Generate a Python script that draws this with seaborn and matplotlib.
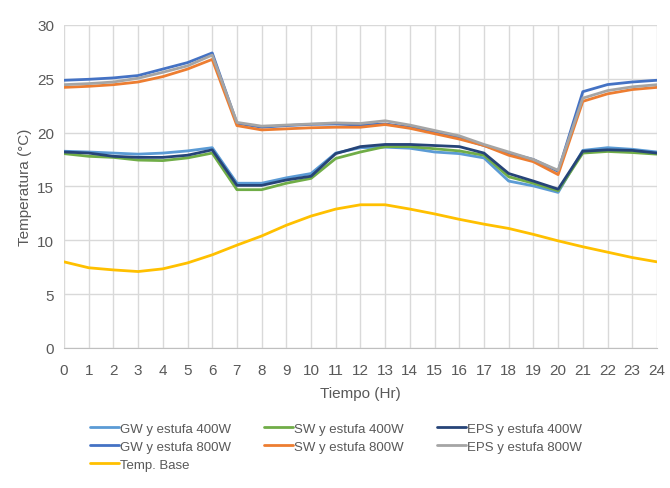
import numpy as np
import pandas as pd
import matplotlib
matplotlib.use("Agg")
import matplotlib.pyplot as plt
import seaborn as sns

hours = list(range(25))
gw_400 = [18.27, 18.2, 18.1, 18.0, 18.1, 18.3, 18.6, 15.3, 15.3, 15.8, 16.2, 18.1, 18.6,
          18.65, 18.55, 18.2, 18.05, 17.65, 15.5, 15.05, 14.45, 18.35, 18.6, 18.45, 18.2]
sw_400 = [18.05, 17.8, 17.7, 17.45, 17.4, 17.65, 18.1, 14.7, 14.7, 15.3, 15.75, 17.6, 18.2,
          18.7, 18.7, 18.5, 18.3, 17.9, 15.9, 15.3, 14.6, 18.1, 18.25, 18.15, 18.0]
eps_400 = [18.2, 18.1, 17.8, 17.7, 17.7, 17.9, 18.4, 15.1, 15.1, 15.6, 15.95, 18.05, 18.7,
           18.9, 18.9, 18.8, 18.7, 18.1, 16.2, 15.5, 14.75, 18.27, 18.4, 18.35, 18.1]
gw_800 = [24.86, 24.95, 25.08, 25.3, 25.9, 26.5, 27.4, 20.87, 20.5, 20.65, 20.77, 20.8, 20.7,
          20.8, 20.5, 20.0, 19.5, 18.8, 18.1, 17.5, 16.4, 23.8, 24.46, 24.7, 24.86]
sw_800 = [24.2, 24.3, 24.45, 24.7, 25.2, 25.9, 26.8, 20.65, 20.25, 20.35, 20.45, 20.5, 20.5,
          20.75, 20.4, 19.9, 19.4, 18.8, 17.9, 17.3, 16.1, 22.9, 23.6, 24.0, 24.2]
eps_800 = [24.45, 24.55, 24.7, 25.05, 25.6, 26.2, 27.2, 20.95, 20.6, 20.7, 20.8, 20.9, 20.85,
           21.1, 20.7, 20.2, 19.7, 18.9, 18.2, 17.5, 16.5, 23.2, 23.9, 24.25, 24.45]
temp_base = [8.0, 7.45, 7.25, 7.1, 7.35, 7.9, 8.65, 9.55, 10.4, 11.4, 12.25, 12.9, 13.3,
             13.3, 12.9, 12.45, 11.95, 11.5, 11.1, 10.55, 9.95, 9.4, 8.9, 8.4, 8.0]

series_names = ["GW y estufa 400W", "SW y estufa 400W", "EPS y estufa 400W",
                "GW y estufa 800W", "SW y estufa 800W", "EPS y estufa 800W", "Temp. Base"]
series_vals = [gw_400, sw_400, eps_400, gw_800, sw_800, eps_800, temp_base]
colors = ["#5B9BD5", "#70AD47", "#264478", "#4472C4", "#ED7D31", "#A5A5A5", "#FFC000"]

df = pd.concat([pd.DataFrame({"Tiempo": hours, "Temp": v, "Serie": n})
                for n, v in zip(series_names, series_vals)], ignore_index=True)

sns.set_style("white")
plt.rcParams['font.family'] = ['Liberation Sans', 'DejaVu Sans']

fig = plt.figure(figsize=(6.7, 4.89), dpi=100)
ax = fig.add_axes([0.0955, 0.2863, 0.885, 0.6607])

sns.lineplot(data=df, x="Tiempo", y="Temp", hue="Serie", hue_order=series_names,
             palette=dict(zip(series_names, colors)), linewidth=2.0, ax=ax, legend=False)

ax.set_xlim(0, 24)
ax.set_ylim(0, 30)
ax.set_xticks(hours)
ax.set_yticks(range(0, 31, 5))
ax.grid(True, color="#D9D9D9", linewidth=1.0)
ax.set_axisbelow(True)
for s in ["top", "right", "left"]:
    ax.spines[s].set_visible(False)
ax.spines["bottom"].set_color("#BFBFBF")
ax.tick_params(axis="both", length=0, labelsize=11, labelcolor="#595959")
ax.tick_params(axis="x", pad=11)
ax.tick_params(axis="y", pad=7)
ax.set_xlabel("Tiempo (Hr)", fontsize=11, color="#595959", labelpad=6)
ax.set_ylabel("Temperatura (°C)", fontsize=11, color="#595959", labelpad=4)

handles = {n: plt.Line2D([], [], color=c, linewidth=2.0) for n, c in zip(series_names, colors)}
order = ["GW y estufa 400W", "GW y estufa 800W", "Temp. Base",
         "SW y estufa 400W", "SW y estufa 800W",
         "EPS y estufa 400W", "EPS y estufa 800W"]
leg = fig.legend([handles[n] for n in order], order, ncol=3, frameon=False,
                 loc="upper left", bbox_to_anchor=(0.134, 0.134), fontsize=9.5,
                 handlelength=2.2, handletextpad=0.1, columnspacing=2.5,
                 labelspacing=0.45, borderaxespad=0, borderpad=0)
for t in leg.get_texts():
    t.set_color("#595959")

fig.savefig("out.png", dpi=100)
